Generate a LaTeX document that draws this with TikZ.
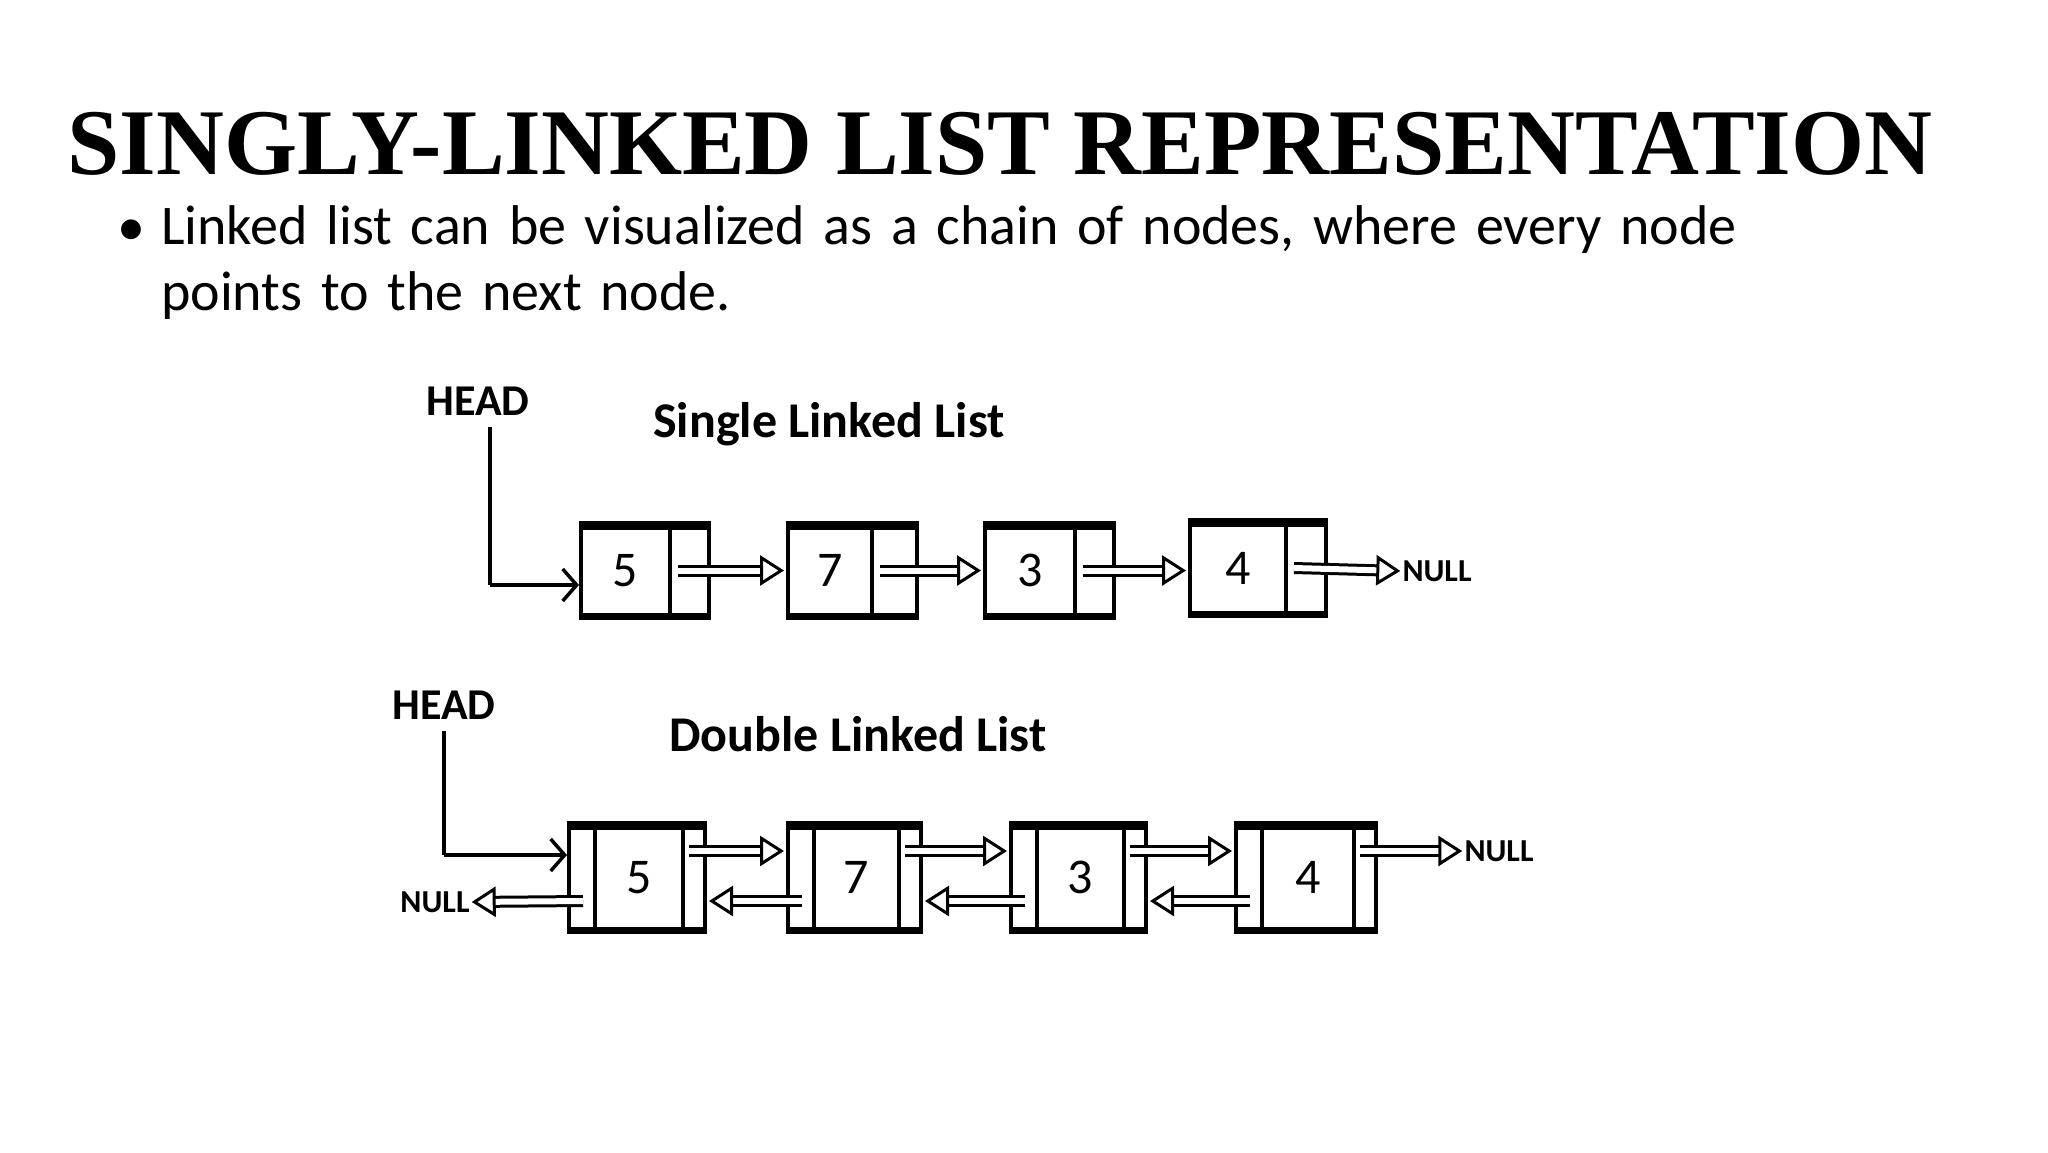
\documentclass[tikz,border=0pt]{standalone}
\usepackage{fontspec}
\setmainfont{Carlito}
\newfontfamily\titlefont{Liberation Serif}
\usetikzlibrary{arrows.meta}
\begin{document}
\begin{tikzpicture}[x=1pt,y=-1pt,
  box/.style={draw,line width=4pt,minimum width=#1,inner sep=0pt},
  blk/.style={line width=3pt,double=white,double distance=6pt,-{Triangle[open,length=24pt,width=30pt,line width=3pt]},shorten >=2pt},
  hd/.style={line width=4pt,-{Straight Barb[length=14pt,width=32pt,line width=3.5pt]}},
  lbl/.style={font=\fontsize{44}{48}\selectfont\bfseries,inner sep=0pt},
  num/.style={font=\fontsize{50}{54}\selectfont,inner sep=0pt},
  nul/.style={font=\fontsize{32}{36}\selectfont\bfseries,inner sep=0pt}]
\useasboundingbox (0,0) rectangle (2048,1152);
\node[font=\titlefont\fontsize{94}{100}\selectfont\bfseries,inner sep=0pt] (title) at (1000,144) {SINGLY-LINKED LIST REPRESENTATION};
\node[font=\fontsize{56}{66}\selectfont,anchor=north west,align=left,inner sep=0pt,text width=1800pt] (txt) at (161,205) {Linked list can be visualized as a chain of nodes, where every node\\points to the next node.};
\node[font=\fontsize{56}{66}\selectfont,inner sep=0pt] (bul) at (131,233) {\textbullet};
% single
\node[lbl] (h1) at (478,401) {HEAD};
\node[lbl,font=\fontsize{50}{54}\selectfont\bfseries] (t1) at (829,424) {Single Linked List};
\foreach \n/\l/\r/\d/\v/\t/\b in {1/581/709/670/5/525/616, 2/788/917/872/7/525/616, 3/985/1114/1075/3/525/616, 4/1190/1326/1286/4/522/614}{
  \node[draw,line width=4pt,inner sep=0pt,minimum width={\r-\l},minimum height={\b-\t}] (s\n) at ({(\l+\r)/2},{(\t+\b)/2}) {};
  \draw[line width=4pt] (\d,\t) -- (\d,\b);
  \draw[line width=9pt] (\l-2,\t) -- (\r+2,\t);
  \draw[line width=7pt] (\l-2,\b) -- (\r+2,\b);
  \node[num] (sv\n) at ({(\l+\d)/2},{(\t+\b)/2}) {\v};
  \coordinate (sp\n) at (\d+8,{(\t+\b)/2});
}
\node[nul] (n1) at (1437,571) {NULL};
\coordinate (hc1) at (490,585);
\draw[line width=4pt] (h1.south -| hc1) ++(0,12) -- (hc1);
\draw[hd] (hc1) -- (s1.west |- hc1);
\draw[blk] (sp1) -- (s2.west |- sp1);
\draw[blk] (sp2) -- (s3.west |- sp2);
\draw[blk] (sp3) -- (s4.west |- sp3);
\draw[blk] (sp4) -- (n1.west);
% double
\node[lbl] (h2) at (444,705) {HEAD};
\node[lbl,font=\fontsize{50}{54}\selectfont\bfseries] (t2) at (858,734) {Double Linked List};
\foreach \n/\l/\r/\v in {1/569/705/5, 2/788/921/7, 3/1011/1146/3, 4/1236/1376/4}{
  \node[draw,line width=4pt,inner sep=0pt,minimum width={\r-\l},minimum height=105pt] (d\n) at ({(\l+\r)/2},877.5) {};
  \draw[line width=4pt] (\l+26,825) -- (\l+26,930);
  \draw[line width=4pt] (\r-22,825) -- (\r-22,930);
  \draw[line width=9pt] (\l-2,825) -- (\r+2,825);
  \draw[line width=7pt] (\l-2,930) -- (\r+2,930);
  \node[num] (dv\n) at ({(\l+\r)/2+2},877.5) {\v};
  \coordinate (df\n) at (\r-16,851);
  \coordinate (db\n) at (\l+14,901);
}
\node[nul] (n2) at (1499,851) {NULL};
\node[nul] (n3) at (435,902) {NULL};
\coordinate (hc2) at (444,855);
\draw[line width=4pt] (h2.south) ++(0,12) -- (hc2);
\draw[hd] (hc2) -- (d1.west |- hc2);
\draw[blk] (df1) -- (d2.west |- df1);
\draw[blk] (df2) -- (d3.west |- df2);
\draw[blk] (df3) -- (d4.west |- df3);
\draw[blk] (df4) -- (n2.west);
\draw[blk] (db2) -- (d1.east |- db2);
\draw[blk] (db3) -- (d2.east |- db3);
\draw[blk] (db4) -- (d3.east |- db4);
\draw[blk] (db1) -- (n3.east);
\end{tikzpicture}
\end{document}
